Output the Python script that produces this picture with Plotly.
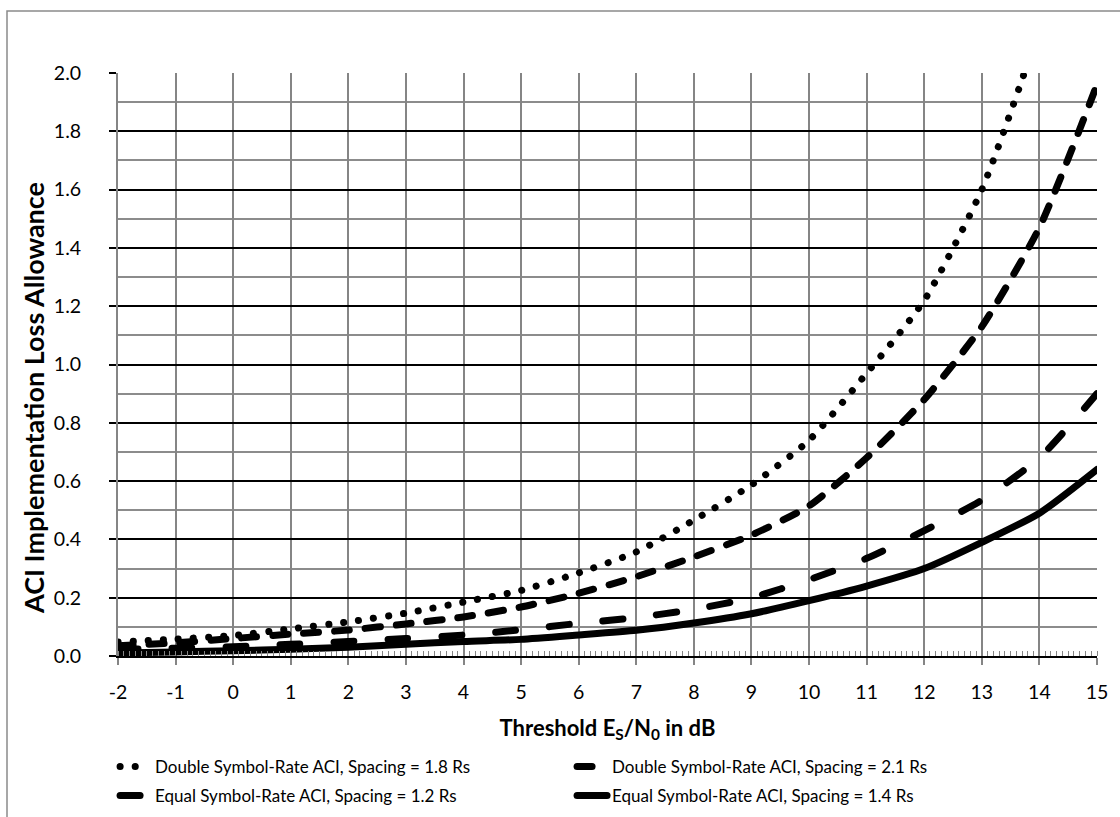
import plotly.graph_objects as go

x_vals = [-2, -1, 0, 1, 2, 3, 4, 5, 6, 7, 8, 9, 10, 11, 12, 13, 14, 15]
x_tick_vals = [-2, -1, 0, 1, 2, 3, 4, 5, 6, 7, 8, 9, 10, 11, 12, 13, 14, 15]
x_tick_text = ["-2", "-1", "0", "1", "2", "3", "4", "5", "6", "7", "8", "9", "10", "11", "12", "13", "14", "15"]

double_18 = [0.048, 0.058, 0.07, 0.093, 0.117, 0.147, 0.185, 0.225, 0.285, 0.357, 0.466, 0.587, 0.74, 0.97, 1.22, 1.6, 2.15, None]
double_21 = [0.035, 0.045, 0.06, 0.075, 0.089, 0.11, 0.134, 0.168, 0.215, 0.272, 0.34, 0.415, 0.515, 0.68, 0.88, 1.13, 1.47, 1.96]
equal_12 = [0.022, 0.027, 0.032, 0.04, 0.05, 0.06, 0.072, 0.09, 0.112, 0.132, 0.16, 0.2, 0.262, 0.335, 0.43, 0.535, 0.68, 0.9]
equal_14 = [0.01, 0.014, 0.018, 0.023, 0.03, 0.04, 0.05, 0.057, 0.072, 0.088, 0.113, 0.145, 0.19, 0.24, 0.3, 0.39, 0.49, 0.64]

names = [
    "Double Symbol-Rate ACI, Spacing = 1.8 Rs",
    "Double Symbol-Rate ACI, Spacing = 2.1 Rs",
    "Equal Symbol-Rate ACI, Spacing = 1.2 Rs",
    "Equal Symbol-Rate ACI, Spacing = 1.4 Rs",
]
series = [double_18, double_21, equal_12, equal_14]
dashes = ["0.1px,15px", "15px,16px", "20px,34px", "solid"]
legend_ids = ["legend", "legend", "legend2", "legend2"]

FONT = "Lato"

fig = go.Figure()
for name, ys, dash, lg in zip(names, series, dashes, legend_ids):
    fig.add_trace(go.Scatter(
        x=x_vals, y=ys, name=name, mode="lines", legend=lg,
        line=dict(color="black", width=7, dash=dash, shape="spline", smoothing=0.6),
        connectgaps=False,
    ))

legend_common = dict(
    orientation="h", x=-0.003, xanchor="left", yanchor="middle",
    entrywidth=412, entrywidthmode="pixels",
    font=dict(family=FONT, size=17, color="black"),
    bgcolor="rgba(0,0,0,0)", tracegroupgap=0,
)

fig.update_layout(
    width=1120, height=817,
    margin=dict(l=118, r=23, t=73, b=161, autoexpand=False),
    paper_bgcolor="white", plot_bgcolor="white",
    font=dict(family=FONT, color="black", size=18),
    showlegend=True,
    legend=dict(legend_common, y=(656 - 767) / 583),
    legend2=dict(legend_common, y=(656 - 796) / 583),
    annotations=[dict(
        text="<b>ACI Implementation Loss Allowance</b>", textangle=-90,
        xref="paper", yref="paper", x=(33 - 118) / 979, y=(656 - 398) / 583,
        xanchor="center", yanchor="middle", showarrow=False,
        font=dict(family=FONT, size=27, color="black"),
    )],
)

fig.update_xaxes(
    range=[-2, 15], tickvals=x_tick_vals, ticktext=x_tick_text,
    showgrid=True, gridcolor="#858585", gridwidth=2,
    zeroline=False,
    showline=True, linecolor="black", linewidth=2,
    ticks="outside", ticklen=7, tickwidth=2, tickcolor="#858585",
    tickfont=dict(family=FONT, size=19.5, color="black"),
    ticklabelstandoff=11,
    minor=dict(dtick=0.1, tick0=-2, ticks="inside", ticklen=5, tickwidth=1, tickcolor="#858585", showgrid=False),
    title=dict(text="<b>Threshold E<sub>S</sub>/N<sub>0</sub> in dB</b>", font=dict(family=FONT, size=22, color="black"), standoff=18),
)
fig.update_yaxes(
    range=[0, 2], tick0=0, dtick=0.2, tickformat=".1f",
    showgrid=True, gridcolor="black", gridwidth=2,
    zeroline=False,
    showline=True, linecolor="#858585", linewidth=2,
    ticks="outside", ticklen=7, tickwidth=2, tickcolor="black",
    tickfont=dict(family=FONT, size=19.5, color="black"),
    ticklabelstandoff=24,
    minor=dict(dtick=0.1, showgrid=True, gridcolor="#8c8c8c", gridwidth=2, ticks=""),
)

# outer chart border
fig.add_shape(
    type="rect", xref="paper", yref="paper",
    x0=(7 - 118) / 979, x1=(1130 - 118) / 979,
    y0=(656 - 830) / 583, y1=(656 - 11) / 583,
    line=dict(color="#8a8a8a", width=1.5), fillcolor="rgba(0,0,0,0)", layer="below",
)

post = """
document.body.style.margin = '0';
var gd = document.getElementById('{plot_id}');
function rc(){ gd.querySelectorAll('path.js-line, .legendlines path').forEach(function(p){ p.style.strokeLinecap='round'; }); }
rc();
gd.on('plotly_afterplot', rc);
"""
fig.write_html("out.html", post_script=post, config={"displayModeBar": False})
